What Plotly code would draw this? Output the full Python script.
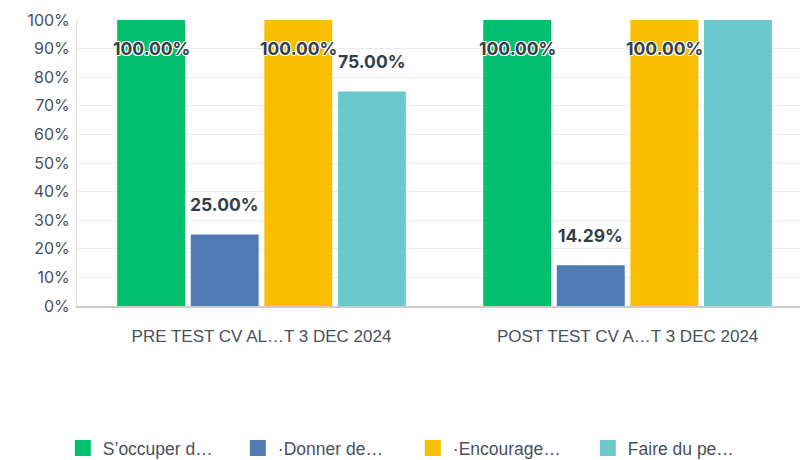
import plotly.graph_objects as go

categories = ["PRE TEST CV AL…T 3 DEC 2024", "POST TEST CV A…T 3 DEC 2024"]
series_names = ["S’occuper d…", "·Donner de…", "·Encourage…", "Faire du pe…"]
series_values = [
    [1.0, 1.0],
    [0.25, 0.1429],
    [1.0, 1.0],
    [0.75, 1.0],
]
show_label = [
    [True, True],
    [True, True],
    [True, True],
    [True, False],
]
colors = ["#00BF6F", "#507CB6", "#F9BE00", "#6BC8CD"]

BARGAP = 0.196
TEXT_COLOR = "#333E48"

fig = go.Figure()
for name, vals, col in zip(series_names, series_values, colors):
    fig.add_trace(go.Bar(x=categories, y=vals, name=name, marker_color=col,
                         marker_line_width=0, showlegend=False, hoverinfo="skip"))
    fig.add_trace(go.Scatter(x=[None], y=[None], mode="markers", name=name,
                             marker=dict(symbol="square", size=16, color=col),
                             showlegend=True))

n = len(series_names)
slot = (1 - BARGAP) / n
annotations = []
for j, vals in enumerate(series_values):
    for i, v in enumerate(vals):
        if not show_label[j][i]:
            continue
        if v >= 0.95:
            ay, shift = 1.0, -28
        else:
            ay, shift = v, 30
        annotations.append(dict(
            x=i + (j - (n - 1) / 2) * slot, y=ay, xref="x", yref="y",
            text=f"{v*100:.2f}%", showarrow=False, yshift=shift,
            font=dict(family="Inter, Noto Sans, sans-serif", size=17.5, color=TEXT_COLOR,
                      weight="bold",
                      shadow="-1px -1px 0 #fff, 1px -1px 0 #fff, -1px 1px 0 #fff, 1px 1px 0 #fff"),
        ))

fig.update_layout(
    width=800, height=460,
    margin=dict(l=77, r=0, t=20, b=154, autoexpand=False),
    paper_bgcolor="white", plot_bgcolor="white",
    barmode="group", bargap=BARGAP, bargroupgap=0.077,
    annotations=annotations,
    xaxis=dict(range=[-0.504, 1.471], showgrid=False, showline=True, linecolor="#cccccc",
               linewidth=2, ticks="outside", ticklen=14, tickcolor="rgba(0,0,0,0)",
               automargin=False,
               tickfont=dict(family="Liberation Sans, Arial, sans-serif", size=17, color="#4A505C"),
               fixedrange=True),
    yaxis=dict(range=[0, 1], tickvals=[i / 10 for i in range(11)], tickformat=".0%",
               showgrid=True, gridcolor="#ececec", gridwidth=1,
               showline=True, linecolor="#dddddd", linewidth=1,
               zeroline=False, ticks="outside", ticklen=3, tickcolor="rgba(0,0,0,0)",
               automargin=False,
               tickfont=dict(family="Inter, Noto Sans, sans-serif", size=16, color="#4A505C"),
               fixedrange=True),
    legend=dict(orientation="h", x=-0.0196, xanchor="left", y=-0.497, yanchor="middle",
                entrywidth=130, entrywidthmode="pixels", itemsizing="trace",
                font=dict(family="Liberation Sans, Arial, sans-serif", size=17.5, color="#4A505C")),
)

fig.write_html("out.html", config={"displayModeBar": False},
               post_script="document.body.style.margin='0';document.body.style.padding='0';")
